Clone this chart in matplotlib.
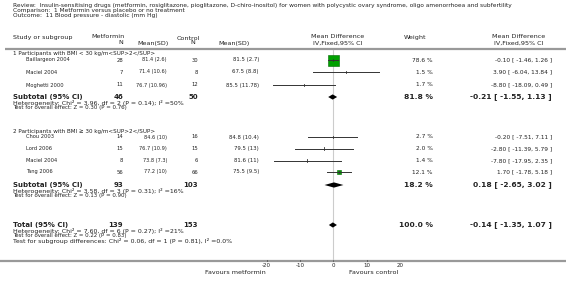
import matplotlib
matplotlib.use("Agg")
import matplotlib.pyplot as plt
import numpy as np

# ---------------- data ----------------
title_lines = [
    "Review:  Insulin-sensitising drugs (metformin, rosiglitazone, pioglitazone, D-chiro-inositol) for women with polycystic ovary syndrome, oligo amenorrhoea and subfertility",
    "Comparison:  1 Metformin versus placebo or no treatment",
    "Outcome:  11 Blood pressure - diastolic (mm Hg)",
]
group_labels = [
    "1 Participants with BMI < 30 kg/m<SUP>2</SUP>",
    "2 Participants with BMI \u2265 30 kg/m<SUP>2</SUP>",
]
g1_studies = ["Baillargeon 2004", "Maciel 2004", "Moghetti 2000"]
g1_met_n = [28, 7, 11]
g1_met_msd = ["81.4 (2.6)", "71.4 (10.6)", "76.7 (10.96)"]
g1_ctl_n = [30, 8, 12]
g1_ctl_msd = ["81.5 (2.7)", "67.5 (8.8)", "85.5 (11.78)"]
g1_md = [-0.10, 3.90, -8.80]
g1_lo = [-1.46, -6.04, -18.09]
g1_hi = [1.26, 13.84, 0.49]
g1_w = [78.6, 1.5, 1.7]

g2_studies = ["Chou 2003", "Lord 2006", "Maciel 2004", "Tang 2006"]
g2_met_n = [14, 15, 8, 56]
g2_met_msd = ["84.6 (10)", "76.7 (10.9)", "73.8 (7.3)", "77.2 (10)"]
g2_ctl_n = [16, 15, 6, 66]
g2_ctl_msd = ["84.8 (10.4)", "79.5 (13)", "81.6 (11)", "75.5 (9.5)"]
g2_md = [-0.20, -2.80, -7.80, 1.70]
g2_lo = [-7.51, -11.39, -17.95, -1.78]
g2_hi = [7.11, 5.79, 2.35, 5.18]
g2_w = [2.7, 2.0, 1.4, 12.1]

sub_labels = ["Subtotal (95% CI)", "Subtotal (95% CI)", "Total (95% CI)"]
sub_met_n = [46, 93, 139]
sub_ctl_n = [50, 103, 153]
sub_md = [-0.21, 0.18, -0.14]
sub_lo = [-1.55, -2.65, -1.35]
sub_hi = [1.13, 3.02, 1.07]
sub_w = [81.8, 18.2, 100.0]
sub_notes = [
    ["Heterogeneity: Chi\u00b2 = 3.96, df = 2 (P = 0.14); I\u00b2 =50%",
     "Test for overall effect: Z = 0.30 (P = 0.76)"],
    ["Heterogeneity: Chi\u00b2 = 3.58, df = 3 (P = 0.31); I\u00b2 =16%",
     "Test for overall effect: Z = 0.13 (P = 0.90)"],
    ["Heterogeneity: Chi\u00b2 = 7.60, df = 6 (P = 0.27); I\u00b2 =21%",
     "Test for overall effect: Z = 0.22 (P = 0.83)",
     "Test for subgroup differences: Chi\u00b2 = 0.06, df = 1 (P = 0.81), I\u00b2 =0.0%"],
]
x_ticks = [-20, -10, 0, 10, 20]
favours_left = "Favours metformin"
favours_right = "Favours control"

# ---------------- layout ----------------
W, H = 566, 284
fig = plt.figure(figsize=(W / 100, H / 100), dpi=100)
ax = fig.add_axes([0, 0, 1, 1])
ax.set_xlim(0, W)
ax.set_ylim(H, 0)
ax.axis("off")

PX_L, PX_R = 266.7, 400.0
fax = fig.add_axes([PX_L / W, 0, (PX_R - PX_L) / W, 1])
fax.set_xlim(-20, 20)
fax.set_ylim(H, 0)
fax.axis("off")
for a in (ax, fax):
    a.patch.set_alpha(0)

FS = 3.6       # study rows, left
FSR = 4.2      # study rows, right columns
FSH = 4.6      # column headers
FSB = 5.0      # bold subtotal left
FSBR = 5.4     # bold subtotal right
TC = "#222222"
GREEN = "#00a000"

def t(x, y, s, ha="left", fs=FS, bold=False, color=TC):
    ax.text(x, y, s, ha=ha, va="center", fontsize=fs,
            fontweight="bold" if bold else "normal", color=color,
            family="DejaVu Sans")

# title
for yy, s in zip([5, 10.5, 16], title_lines):
    t(13, yy, s, fs=4.25)

# headers
t(13, 37, "Study or subgroup", fs=FSH)
t(108, 37, "Metformin", ha="center", fs=FSH)
t(123, 43, "N", ha="right", fs=FSH)
t(137, 43, "Mean(SD)", fs=FSH)
t(188, 38, "Control", ha="center", fs=FSH)
t(195, 43, "N", ha="right", fs=FSH)
t(218, 43, "Mean(SD)", fs=FSH)
t(338, 37, "Mean Difference", ha="center", fs=FSH)
t(338, 43, "IV,Fixed,95% CI", ha="center", fs=FSH)
t(415, 37, "Weight", ha="center", fs=FSH)
t(519, 37, "Mean Difference", ha="center", fs=FSH)
t(519, 43, "IV,Fixed,95% CI", ha="center", fs=FSH)

ax.plot([5, W], [48.7, 48.7], color="#999999", lw=1.6, solid_capstyle="butt")
ax.plot([0, W], [261, 261], color="#999999", lw=1.6, solid_capstyle="butt")
fax.plot([0, 0], [49.5, 260], color="#cccccc", lw=0.8, zorder=0)

def study_rows(studies, mn, mmsd, cn, cmsd, md, lo, hi, w, ys):
    for i, y in enumerate(ys):
        t(26, y, studies[i], fs=3.7)
        t(123, y, str(mn[i]), ha="right", fs=3.8)
        t(167, y, mmsd[i], ha="right")
        t(198, y, str(cn[i]), ha="right", fs=3.8)
        t(259, y, cmsd[i], ha="right", fs=3.9)
        t(433, y, f"{w[i]:.1f} %", ha="right", fs=FSR)
        t(552, y, f"{md[i]:.2f} [ {lo[i]:.2f}, {hi[i]:.2f} ]", ha="right", fs=FSR)
        side = 11.0 * np.sqrt(w[i] / 78.6)
        if side > 3:
            fax.plot(md[i], y, marker="s", ms=side * 0.72, mfc=GREEN,
                     mec="#006600", mew=0.4, zorder=2)
        fax.plot([lo[i], hi[i]], [y, y], color="#333333", lw=0.7, zorder=3)
        fax.plot([md[i], md[i]], [y - 1.2, y + 1.2], color="#333333", lw=0.6, zorder=3)

def diamond(j, y):
    xs = [sub_lo[j], sub_md[j], sub_hi[j], sub_md[j]]
    ys = [y, y - 2.6, y, y + 2.6]
    fax.fill(xs, ys, color="black", lw=0, zorder=3)

def subtotal(j, y):
    t(13, y, sub_labels[j], fs=FSB, bold=True)
    t(123, y, str(sub_met_n[j]), ha="right", fs=FSB, bold=True)
    t(198, y, str(sub_ctl_n[j]), ha="right", fs=FSB, bold=True)
    t(433, y, f"{sub_w[j]:.1f} %", ha="right", fs=FSBR, bold=True)
    t(552, y, f"{sub_md[j]:.2f} [ {sub_lo[j]:.2f}, {sub_hi[j]:.2f} ]", ha="right", fs=FSBR, bold=True)
    diamond(j, y)
    for k, s in enumerate(sub_notes[j]):
        fs = 4.5 if "\u00b2" in s else 3.85
        t(13, y + 6 + 5 * k, s, fs=fs)

# group 1
t(13, 53, group_labels[0], fs=4.1)
study_rows(g1_studies, g1_met_n, g1_met_msd, g1_ctl_n, g1_ctl_msd,
           g1_md, g1_lo, g1_hi, g1_w, [60, 72, 85])
subtotal(0, 97)

# group 2
t(13, 131, group_labels[1], fs=4.1)
study_rows(g2_studies, g2_met_n, g2_met_msd, g2_ctl_n, g2_ctl_msd,
           g2_md, g2_lo, g2_hi, g2_w, [137, 148.5, 160.5, 172])
subtotal(1, 185)

# total
subtotal(2, 225)

# axis ticks
for xv in x_ticks:
    fax.plot([xv, xv], [259.5, 261], color="#555555", lw=0.6)
    fax.text(xv, 265.5, f"{xv}", ha="center", va="center", fontsize=4.0, color=TC)
fax.text(-20.3, 272, favours_left, ha="right", va="center", fontsize=4.6, color=TC)
fax.text(4.8, 272, favours_right, ha="left", va="center", fontsize=4.6, color=TC)

fig.savefig("out.png", dpi=100)
